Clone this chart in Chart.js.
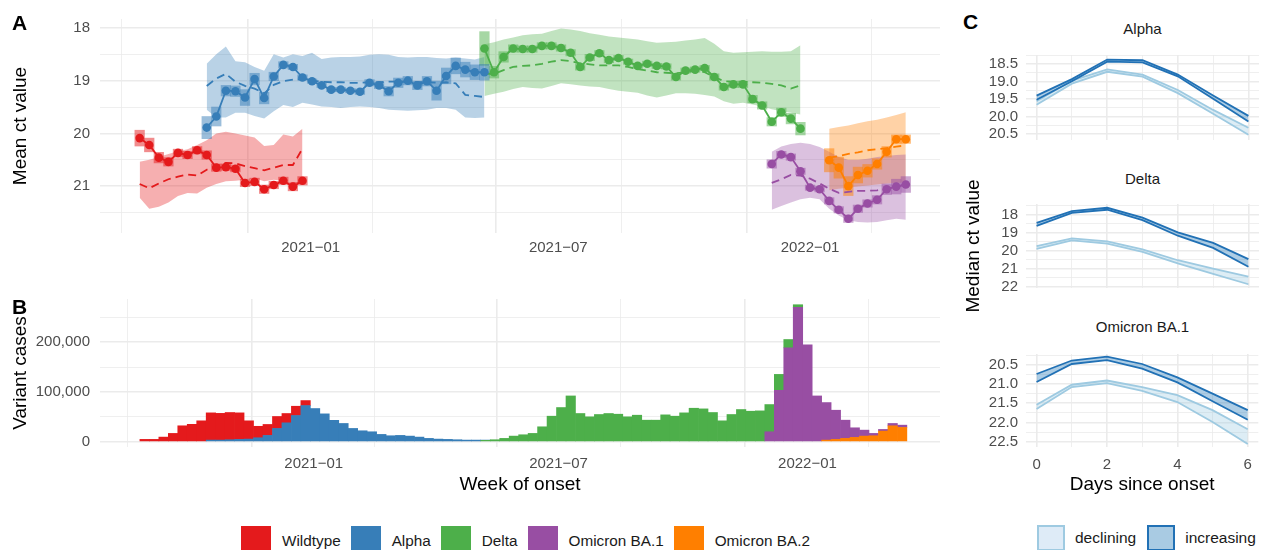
<!DOCTYPE html>
<html>
<head>
<meta charset="utf-8">
<title>Ct values by variant</title>
<script src="https://cdn.jsdelivr.net/npm/chart.js@4.4.1/dist/chart.umd.min.js"></script>
<style>
  body { margin: 0; width: 1261px; height: 550px; position: relative; overflow: hidden; background: #fff;
         font-family: "Liberation Sans", Arial, sans-serif; }
  canvas { position: absolute; }
  .tag { position: absolute; font-size: 21px; font-weight: bold; line-height: 21px; color: #000; }
  .strip { position: absolute; left: 1026px; width: 233px; text-align: center; font-size: 15px; line-height: 15px; color: #1a1a1a; }
  .ytitle { position: absolute; width: 200px; text-align: center; font-size: 19px; line-height: 20px; color: #000;
            transform: rotate(-90deg); }
  .legend { position: absolute; display: flex; align-items: center; color: #1a1a1a; white-space: nowrap; }
  .key { display: inline-block; box-sizing: border-box; }
</style>
</head>
<body>
<canvas id="panelA" width="950" height="270" style="left:0;top:0"></canvas>
<canvas id="panelB" width="950" height="230" style="left:0;top:280px"></canvas>
<canvas id="alphaC" width="311" height="119" style="left:950px;top:38px"></canvas>
<canvas id="deltaC" width="311" height="118" style="left:950px;top:187px"></canvas>
<canvas id="ba1C" width="311" height="173" style="left:950px;top:337px"></canvas>

<div class="tag" style="left:12px;top:12px">A</div>
<div class="tag" style="left:12px;top:296px">B</div>
<div class="tag" style="left:963px;top:11px">C</div>
<div class="strip" style="top:21px">Alpha</div>
<div class="strip" style="top:171px">Delta</div>
<div class="strip" style="top:319px">Omicron BA.1</div>
<div class="ytitle" style="left:873px;top:236px">Median ct value</div>

<div class="legend" id="variantLegend" style="left:241px;top:526px;font-size:15.3px"></div>
<div class="legend" style="left:1037px;top:525px;font-size:15.5px">
  <span class="key" style="width:28px;height:26px;background:#deebf7;border:2px solid #9ecae1"></span>
  <span style="margin:0 11px 0 10px">declining</span>
  <span class="key" style="width:28px;height:26px;background:#a9cbe3;border:2px solid #2171b5"></span>
  <span style="margin-left:10px">increasing</span>
</div>

<script>
// weeks of onset: week 0 is the first week with data
const firstWeek = '2020-08-29';
const variants = ['Wildtype', 'Alpha', 'Delta', 'Omicron BA.1', 'Omicron BA.2'];
const colours = ['#e41a1c', '#377eb8', '#4daf4a', '#984ea3', '#ff7f00'];
const startWeek = [0, 7, 36, 66, 72];

// Panel A: weekly mean ct (points), model estimate (dashed), its interval, box half-height
const wildMean = [20.09, 20.22, 20.46, 20.54, 20.37, 20.41, 20.32, 20.41, 20.65, 20.64, 20.67, 20.94, 20.92, 21.06, 20.98, 20.90, 21.01, 20.90];
const wildFit = [20.96, 21.04, 20.95, 20.87, 20.82, 20.78, 20.80, 20.69, 20.62, 20.56, 20.57, 20.62, 20.66, 20.70, 20.65, 20.60, 20.60, 20.29];
const wildLow = [20.54, 20.50, 20.45, 20.39, 20.34, 20.30, 20.22, 20.13, 20.00, 19.97, 20.00, 20.04, 20.08, 20.24, 20.22, 20.02, 20.06, 19.91];
const wildHigh = [21.22, 21.43, 21.39, 21.31, 21.19, 21.13, 21.14, 21.03, 20.96, 20.91, 20.90, 20.88, 20.85, 20.91, 20.88, 20.90, 20.94, 20.94];
const wildBox = [0.15, 0.13, 0.1, 0.08, 0.07, 0.07, 0.07, 0.08, 0.07, 0.06, 0.06, 0.07, 0.07, 0.08, 0.07, 0.07, 0.08, 0.08];

const alphaMean = [19.89, 19.68, 19.19, 19.20, 19.32, 18.97, 19.33, 18.92, 18.70, 18.74, 18.94, 19.01, 19.09, 19.17, 19.17, 19.19, 19.21, 19.04, 19.09, 19.20, 19.04, 19.00, 19.09, 19.01, 19.19, 18.91, 18.72, 18.79, 18.84, 18.84];
const alphaFit = [19.10, 18.96, 18.87, 19.02, 19.10, 19.15, 19.24, 19.08, 19.01, 18.98, 18.97, 19.00, 19.02, 19.03, 19.03, 19.04, 19.04, 19.03, 19.03, 19.02, 19.02, 19.02, 19.03, 19.03, 19.04, 19.03, 19.05, 19.27, 19.29, 19.31];
const alphaLow = [18.68, 18.50, 18.35, 18.63, 18.65, 18.74, 18.81, 18.50, 18.56, 18.50, 18.53, 18.47, 18.59, 18.56, 18.55, 18.55, 18.54, 18.51, 18.50, 18.51, 18.55, 18.56, 18.55, 18.55, 18.57, 18.58, 18.56, 18.58, 18.60, 18.55];
const alphaHigh = [19.55, 19.70, 19.70, 19.61, 19.61, 19.67, 19.72, 19.58, 19.46, 19.50, 19.42, 19.45, 19.49, 19.50, 19.52, 19.50, 19.49, 19.50, 19.52, 19.55, 19.56, 19.57, 19.56, 19.55, 19.52, 19.52, 19.55, 19.70, 19.71, 19.70];
const alphaBox = [0.21, 0.18, 0.1, 0.1, 0.15, 0.11, 0.11, 0.08, 0.06, 0.05, 0.05, 0.04, 0.04, 0.04, 0.04, 0.04, 0.05, 0.06, 0.06, 0.09, 0.09, 0.08, 0.08, 0.09, 0.18, 0.15, 0.15, 0.14, 0.14, 0.15];

const deltaMean = [18.39, 18.84, 18.55, 18.39, 18.40, 18.40, 18.34, 18.34, 18.38, 18.47, 18.74, 18.56, 18.48, 18.61, 18.57, 18.64, 18.72, 18.68, 18.72, 18.73, 18.93, 18.81, 18.79, 18.76, 18.93, 19.12, 19.07, 19.07, 19.35, 19.47, 19.78, 19.60, 19.72, 19.91];
const deltaFit = [18.87, 18.87, 18.80, 18.74, 18.72, 18.71, 18.68, 18.64, 18.61, 18.63, 18.67, 18.69, 18.71, 18.71, 18.71, 18.74, 18.78, 18.81, 18.84, 18.85, 18.86, 18.84, 18.81, 18.84, 18.93, 19.01, 19.02, 19.02, 19.03, 19.04, 19.06, 19.09, 19.15, 19.09];
const deltaLow = [18.31, 18.27, 18.22, 18.18, 18.14, 18.12, 18.11, 18.06, 18.01, 18.03, 18.06, 18.10, 18.13, 18.16, 18.18, 18.20, 18.22, 18.25, 18.28, 18.27, 18.26, 18.24, 18.22, 18.19, 18.30, 18.44, 18.47, 18.46, 18.45, 18.44, 18.45, 18.45, 18.44, 18.33];
const deltaHigh = [19.29, 19.25, 19.21, 19.16, 19.12, 19.14, 19.15, 19.10, 19.05, 19.07, 19.09, 19.11, 19.12, 19.16, 19.19, 19.21, 19.23, 19.28, 19.32, 19.28, 19.24, 19.24, 19.25, 19.27, 19.30, 19.39, 19.44, 19.42, 19.45, 19.49, 19.54, 19.58, 19.61, 19.64];
const deltaBox = [0.32, 0.11, 0.1, 0.07, 0.06, 0.06, 0.06, 0.06, 0.06, 0.06, 0.06, 0.06, 0.05, 0.05, 0.05, 0.05, 0.05, 0.05, 0.05, 0.05, 0.06, 0.05, 0.05, 0.05, 0.06, 0.06, 0.06, 0.06, 0.07, 0.07, 0.08, 0.08, 0.1, 0.12];

const ba1Mean = [20.58, 20.40, 20.45, 20.72, 21.03, 21.06, 21.28, 21.45, 21.62, 21.43, 21.33, 21.26, 21.06, 21.01, 20.97];
const ba1Fit = [20.94, 20.87, 20.79, 20.80, 20.86, 20.95, 21.05, 21.13, 21.11, 21.09, 21.09, 21.08, 21.05, 21.02, 20.96];
const ba1Low = [20.35, 20.25, 20.20, 20.18, 20.20, 20.26, 20.35, 20.45, 20.50, 20.50, 20.48, 20.45, 20.43, 20.41, 20.40];
const ba1High = [21.45, 21.38, 21.31, 21.25, 21.22, 21.25, 21.43, 21.56, 21.65, 21.68, 21.69, 21.68, 21.65, 21.62, 21.64];
const ba1Box = [0.08, 0.06, 0.06, 0.06, 0.05, 0.05, 0.06, 0.06, 0.07, 0.07, 0.07, 0.08, 0.1, 0.14, 0.15];

const ba2Mean = [20.51, 20.65, 21.00, 20.79, 20.71, 20.58, 20.35, 20.11, 20.11];
const ba2Fit = [20.46, 20.43, 20.39, 20.36, 20.32, 20.30, 20.28, 20.25, 20.23];
const ba2Low = [19.91, 19.88, 19.85, 19.81, 19.77, 19.74, 19.70, 19.65, 19.60];
const ba2High = [21.08, 21.05, 21.03, 21.01, 20.99, 20.97, 20.95, 20.94, 20.93];
const ba2Box = [0.22, 0.2, 0.18, 0.15, 0.12, 0.1, 0.1, 0.08, 0.08];

// Panel B: weekly variant cases
const wildCases = [4700, 4700, 9300, 16700, 32000, 35000, 42000, 54700, 53700, 54700, 53300, 36700, 23000, 22000, 24000, 18700, 18600, 10000];
const alphaCases = [3300, 3300, 4000, 4700, 5300, 8000, 12700, 26700, 38000, 52700, 72700, 66700, 56000, 43000, 36700, 26700, 22000, 20000, 14700, 12000, 12700, 11300, 9300, 6700, 5300, 4700, 4000, 3300, 3300, 500];
const deltaCases = [2800, 4000, 6700, 11300, 14000, 16700, 30000, 51300, 68700, 92000, 56700, 50000, 54700, 56700, 55300, 50000, 53300, 43300, 43300, 54000, 51300, 58000, 67300, 66000, 58700, 42000, 54700, 64700, 61300, 62000, 54700, 32000, 16700, 5300];
const ba1Cases = [20000, 103300, 188700, 270000, 194700, 92000, 75400, 58600, 36600, 19300, 12000, 4700, 3400, 4700, 4600];
const ba2Cases = [3300, 4700, 6700, 8700, 11300, 12000, 21300, 32000, 28700];

// Panel C: median ct by day since onset, band edges
const days = [0, 1, 2, 3, 4, 5, 6];
const alphaIncMin = [19.40, 18.93, 18.37, 18.39, 18.80, 19.40, 19.98];
const alphaIncMax = [19.52, 18.99, 18.43, 18.45, 18.85, 19.49, 20.14];
const alphaDecMin = [19.56, 18.97, 18.65, 18.80, 19.24, 19.81, 20.32];
const alphaDecMax = [19.66, 19.06, 18.72, 18.86, 19.33, 19.92, 20.52];
const deltaIncMin = [18.45, 17.80, 17.61, 18.16, 18.98, 19.57, 20.48];
const deltaIncMax = [18.62, 17.90, 17.72, 18.30, 19.17, 19.85, 20.90];
const deltaDecMin = [19.75, 19.32, 19.49, 19.93, 20.54, 21.01, 21.45];
const deltaDecMax = [19.90, 19.43, 19.61, 20.07, 20.72, 21.30, 21.88];
const ba1IncMin = [20.74, 20.39, 20.29, 20.48, 20.83, 21.25, 21.68];
const ba1IncMax = [20.95, 20.48, 20.38, 20.60, 20.96, 21.45, 21.93];
const ba1DecMin = [21.54, 21.02, 20.91, 21.08, 21.29, 21.68, 22.18];
const ba1DecMax = [21.65, 21.08, 20.98, 21.18, 21.47, 21.99, 22.56];

// ticks and tick labels ('' = minor grid line only)
const monthTicks = ['2020-10-01', '2021-01-01', '2021-04-01', '2021-07-01', '2021-10-01', '2022-01-01', '2022-04-01'];
const monthLabels = ['', '2021−01', '', '2021−07', '', '2022−01', ''];
const ctTicks = [18, 18.5, 19, 19.5, 20, 20.5, 21, 21.5];
const ctLabels = ['18', '', '19', '', '20', '', '21', ''];
const caseTicks = [0, 50000, 100000, 150000, 200000, 250000];
const caseLabels = ['0', '', '100,000', '', '200,000', ''];
const dayLabels = ['0', '', '2', '', '4', '', '6'];
const alphaTicks = [18.25, 18.5, 18.75, 19, 19.25, 19.5, 19.75, 20, 20.25, 20.5];
const alphaLabels = ['', '18.5', '', '19.0', '', '19.5', '', '20.0', '', '20.5'];
const deltaTicks = [17.5, 18, 18.5, 19, 19.5, 20, 20.5, 21, 21.5, 22];
const deltaLabels = ['', '18', '', '19', '', '20', '', '21', '', '22'];
const ba1Ticks = [20.25, 20.5, 20.75, 21, 21.25, 21.5, 21.75, 22, 22.25, 22.5];
const ba1Labels = ['', '20.5', '', '21.0', '', '21.5', '', '22.0', '', '22.5'];

Chart.defaults.font.family = '"Liberation Sans", Arial, sans-serif';
Chart.defaults.color = '#4d4d4d';

const DAY = 86400000;
const toDay = (iso) => Date.parse(iso) / DAY;
const weekX = (k) => toDay(firstWeek) + 7 * k;
const pts = (start, arr) => arr.map((y, i) => ({ x: weekX(start + i), y }));
const rgba = (hex, a) => {
  const n = parseInt(hex.slice(1), 16);
  return `rgba(${n >> 16},${(n >> 8) & 255},${n & 255},${a})`;
};

function axis(o) {
  return {
    type: 'linear', min: o.min, max: o.max, reverse: !!o.reverse, offset: false, stacked: !!o.stacked,
    afterBuildTicks: (s) => { s.ticks = o.values.map((v) => ({ value: v })); },
    afterFit: (s) => { if (s.isHorizontal()) s.height = o.size; else s.width = o.size; },
    grid: { color: '#ebebeb', lineWidth: (c) => (o.labels[c.index] ? 1.6 : 0.8), drawTicks: false },
    border: { display: false },
    ticks: {
      display: o.showLabels !== false, autoSkip: false, maxRotation: 0, font: { size: 15 },
      color: '#4d4d4d', padding: o.pad, callback: (v, i) => o.labels[i],
    },
    title: o.title
      ? { display: true, text: o.title, color: '#000', font: { size: 19 }, padding: o.titlePad }
      : { display: false },
  };
}

const baseOptions = (padding) => ({
  responsive: false, animation: false, events: [],
  layout: { padding },
  plugins: { legend: { display: false }, tooltip: { enabled: false } },
});

// ---- Panel A ----
const ctMean = [wildMean, alphaMean, deltaMean, ba1Mean, ba2Mean];
const ctFit = [wildFit, alphaFit, deltaFit, ba1Fit, ba2Fit];
const ctLow = [wildLow, alphaLow, deltaLow, ba1Low, ba2Low];
const ctHigh = [wildHigh, alphaHigh, deltaHigh, ba1High, ba2High];
const ctBox = [wildBox, alphaBox, deltaBox, ba1Box, ba2Box];

const aDatasets = [];
variants.forEach((name, v) => {
  const c = colours[v];
  const s = startWeek[v];
  aDatasets.push({ type: 'line', data: pts(s, ctLow[v]), borderWidth: 0, pointRadius: 0, fill: false, order: 40 });
  aDatasets.push({ type: 'line', data: pts(s, ctHigh[v]), borderWidth: 0, pointRadius: 0, fill: '-1',
    backgroundColor: rgba(c, 0.35), order: 40 });
  aDatasets.push({ type: 'bar', grouped: false, barPercentage: 1, categoryPercentage: 1, borderWidth: 0,
    backgroundColor: rgba(c, 0.5), order: 30,
    data: ctMean[v].map((m, i) => ({ x: weekX(s + i), y: [m - ctBox[v][i], m + ctBox[v][i]] })) });
  aDatasets.push({ type: 'line', label: name + ' fit', data: pts(s, ctFit[v]), borderColor: c, borderWidth: 1.8,
    borderDash: [8, 5], pointRadius: 0, fill: false, order: 20 });
  aDatasets.push({ type: 'line', label: name, data: pts(s, ctMean[v]), borderColor: c, backgroundColor: c,
    borderWidth: 1.8, pointRadius: 4.3, pointBorderWidth: 0, fill: false, order: 10 });
});

new Chart(document.getElementById('panelA'), {
  type: 'line',
  data: { datasets: aDatasets },
  options: {
    ...baseOptions({ top: 14, right: 10, bottom: 0, left: 0 }),
    scales: {
      x: axis({ values: monthTicks.map(toDay), labels: monthLabels, size: 37, pad: 6,
        min: toDay('2020-07-31'), max: toDay('2022-04-06') }),
      y: axis({ values: ctTicks, labels: ctLabels, size: 100, pad: 10, min: 17.83, max: 21.89, reverse: true,
        title: 'Mean ct value', titlePad: 9 }),
    },
  },
});

// ---- Panel B ----
const cases = [wildCases, alphaCases, deltaCases, ba1Cases, ba2Cases];
const bDatasets = variants.map((name, v) => ({
  type: 'bar', label: name, data: pts(startWeek[v], cases[v]), backgroundColor: colours[v],
  borderWidth: 0, barPercentage: 1, categoryPercentage: 1,
})).reverse();

new Chart(document.getElementById('panelB'), {
  type: 'bar',
  data: { datasets: bDatasets },
  options: {
    ...baseOptions({ top: 18, right: 10, bottom: 0, left: 0 }),
    scales: {
      x: axis({ values: monthTicks.map(toDay), labels: monthLabels, size: 63, pad: 8, stacked: true,
        min: toDay('2020-07-27'), max: toDay('2022-04-09'), title: 'Week of onset', titlePad: 14 }),
      y: axis({ values: caseTicks, labels: caseLabels, size: 100, pad: 10, stacked: true,
        min: -10600, max: 286800, title: 'Variant cases', titlePad: 9 }),
    },
  },
});

// ---- Panel C ----
function bandChart(id, dec, inc, yTicks, yLabels, yMin, yMax, last) {
  const line = (arr, colour, fill, bg, order) => ({
    type: 'line', data: days.map((d, i) => ({ x: d, y: arr[i] })), borderColor: colour, borderWidth: 1.8,
    pointRadius: 0, fill, backgroundColor: bg, order,
  });
  new Chart(document.getElementById(id), {
    type: 'line',
    data: {
      datasets: [
        line(dec[0], '#9ecae1', false, 'transparent', 2),
        line(dec[1], '#9ecae1', '-1', 'rgba(158,202,225,0.35)', 2),
        line(inc[0], '#2171b5', false, 'transparent', 1),
        line(inc[1], '#2171b5', '-1', 'rgba(49,130,189,0.4)', 1),
      ],
    },
    options: {
      ...baseOptions({ top: 5, right: 2, bottom: last ? 0 : 5, left: 0 }),
      scales: {
        x: axis(last
          ? { values: days, labels: dayLabels, size: 63, pad: 9, min: -0.3, max: 6.3,
              title: 'Days since onset', titlePad: 14 }
          : { values: days, labels: dayLabels, size: 0, pad: 0, min: -0.3, max: 6.3, showLabels: false }),
        y: axis({ values: yTicks, labels: yLabels, size: 76, pad: 8, min: yMin, max: yMax, reverse: true }),
      },
    },
  });
}

bandChart('alphaC', [alphaDecMin, alphaDecMax], [alphaIncMin, alphaIncMax], alphaTicks, alphaLabels, 18.24, 20.67, false);
bandChart('deltaC', [deltaDecMin, deltaDecMax], [deltaIncMin, deltaIncMax], deltaTicks, deltaLabels, 17.40, 22.09, false);
bandChart('ba1C', [ba1DecMin, ba1DecMax], [ba1IncMin, ba1IncMax], ba1Ticks, ba1Labels, 20.22, 22.64, true);

// variant legend
const legend = document.getElementById('variantLegend');
variants.forEach((name, v) => {
  legend.insertAdjacentHTML('beforeend',
    `<span class="key" style="width:30px;height:29px;background:${colours[v]}"></span>` +
    `<span style="margin:0 10px 0 11px">${name}</span>`);
});
</script>
</body>
</html>
